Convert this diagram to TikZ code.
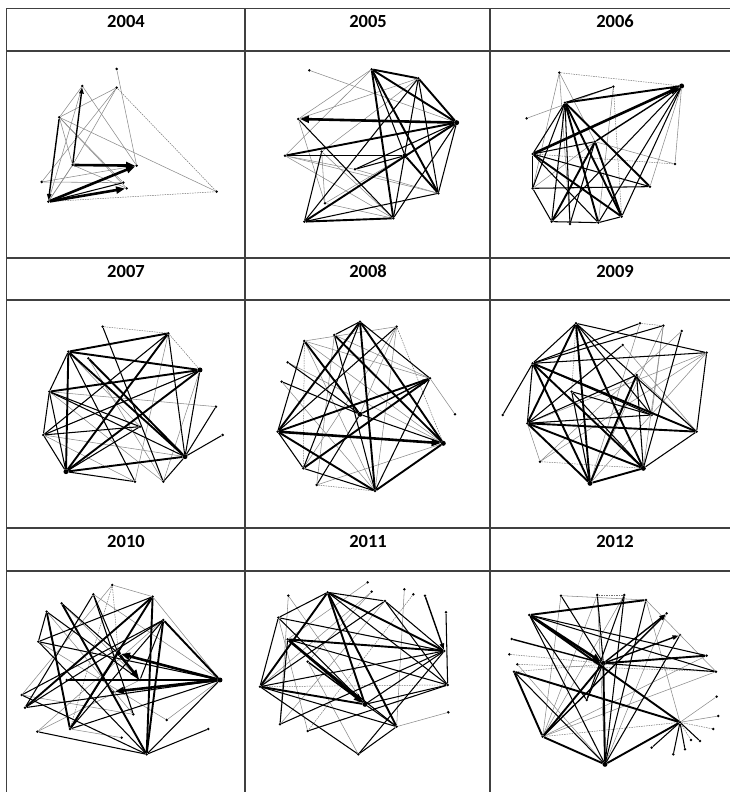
\documentclass[tikz,border=0pt]{standalone}
\usepackage{fontspec}
\setmainfont{Carlito}
\usetikzlibrary{arrows.meta}
\tikzset{
  dot/.style={circle,fill=black,inner sep=0pt,minimum size=2.8pt},
  bigdot/.style={circle,fill=black,inner sep=0pt,minimum size=5pt},
  grid/.style={draw=black!75,line width=1.3pt},
  hdr/.style={font=\bfseries\fontsize{18.5}{20}\selectfont},
  ed/.style={draw=black!55,line width=0.5pt,dash pattern=on 1.5pt off 1pt},
  eg/.style={draw=black!45,line width=0.55pt},
  em/.style={draw=black,line width=1.05pt},
  et/.style={draw=black,line width=1.9pt},
  ea/.style={draw=black,line width=2.6pt,-{Triangle[length=9pt,width=7pt]}},
  eb/.style={draw=black,line width=1.4pt,-{Triangle[length=6pt,width=4.5pt]}},
}
\begin{document}
\begin{tikzpicture}[x=1pt,y=-1pt]
\useasboundingbox (0,0) rectangle (730,792);
% ---------- table ----------
\draw[grid] (6.5,8.5) -- (740,8.5);
\foreach \yy in {51,258,300,528,571} \draw[grid] (6.5,\yy) -- (740,\yy);
\draw[grid] (6.5,8.5) -- (6.5,800);
\draw[grid] (245,8.5) -- (245,800);
\draw[grid] (490,8.5) -- (490,800);
\node[hdr] (t04) at (126,21) {2004};
\node[hdr] (t05) at (368,21) {2005};
\node[hdr] (t06) at (615,21) {2006};
\node[hdr] (t07) at (126,271) {2007};
\node[hdr] (t08) at (368,271) {2008};
\node[hdr] (t09) at (615,271) {2009};
\node[hdr] (t10) at (126,541) {2010};
\node[hdr] (t11) at (368,541) {2011};
\node[hdr] (t12) at (615,541) {2012};

% ---------- 2004 ----------
\begin{scope}[shift={(0,0)},x=0.3333pt,y=-0.3333pt]
\foreach \n/\p in {a1/{(350,207)},a2/{(350,263)},a3/{(247,258)},a4/{(178,352)},a5/{(218,495)},a6/{(410,497)},a7/{(370,548)},a8/{(380,565)},a9/{(125,546)},a10/{(145,605)},a11/{(650,575)}}
  \node[dot] (\n) at \p {};
\foreach \s/\t in {a1/a6,a2/a4,a2/a5,a9/a2,a3/a4,a3/a6,a4/a11,a4/a7,a4/a5,a5/a8,a5/a10,a9/a6,a9/a7,a10/a5,a3/a10,a4/a8}
  \draw[eg] (\s) -- (\t);
\foreach \s/\t in {a2/a11,a10/a11}
  \draw[ed] (\s) -- (\t);
\draw[em] (a10) -- (a7);
\draw[eb] (a5) -- (a3);
\draw[eb] (a4) -- (a10);
\draw[ea] (a5) -- (a6);
\draw[ea] (a10) -- (a6);
\draw[ea] (a10) -- (a8);
\end{scope}

% ---------- 2005 ----------
\begin{scope}[shift={(245,0)},x=0.3333pt,y=-0.3333pt]
\foreach \n/\p in {b1/{(193,211)},b2/{(380,208)},b3/{(520,235)},b5/{(160,357)},b6/{(120,467)},b7/{(230,455)},b9/{(330,508)},b10/{(580,580)},b11/{(445,655)},b12/{(178,665)},b13/{(240,610)}}
  \node[dot] (\n) at \p {};
\node[bigdot] (b4) at (635,368) {};
\node[bigdot] (b8) at (480,467) {};
\foreach \s/\t in {b1/b4,b2/b5,b2/b6,b3/b5,b6/b10,b6/b11,b7/b11,b13/b8,b7/b13,b5/b13,b6/b9,b3/b7,b9/b10,b13/b11}
  \draw[eg] (\s) -- (\t);
\foreach \s/\t in {b3/b11,b3/b10,b2/b8,b4/b10,b4/b11,b4/b9,b6/b8,b12/b10,b5/b11,b3/b12,b7/b12,b9/b8}
  \draw[em] (\s) -- (\t);
\foreach \s/\t in {b2/b3,b2/b4,b3/b4,b2/b10,b2/b11,b4/b6,b4/b12,b8/b10,b12/b11}
  \draw[et] (\s) -- (\t);
\draw[ea] (b4) -- (b5);
\end{scope}

% ---------- 2006 ----------
\begin{scope}[shift={(490,0)},x=0.3333pt,y=-0.3333pt]
\foreach \n/\p in {c1/{(208,218)},c2/{(370,260)},c4/{(225,308)},c5/{(110,355)},c6/{(315,425)},c7/{(128,462)},c8/{(555,492)},c9/{(128,565)},c10/{(480,560)},c11/{(395,650)},c12/{(185,665)},c13/{(240,672)},c14/{(325,668)}}
  \node[dot] (\n) at \p {};
\node[bigdot] (c3) at (575,258) {};
\foreach \s/\t in {c5/c2,c3/c8,c3/c10,c1/c9,c1/c13,c6/c8,c6/c9,c2/c14,c1/c6}
  \draw[eg] (\s) -- (\t);
\foreach \s/\t in {c1/c3,c7/c8,c2/c11}
  \draw[ed] (\s) -- (\t);
\foreach \s/\t in {c2/c4,c3/c11,c3/c14,c3/c12,c4/c7,c4/c9,c4/c12,c4/c13,c7/c10,c7/c9,c7/c14,c7/c6,c9/c10,c12/c14,c14/c11,c6/c13,c9/c12}
  \draw[em] (\s) -- (\t);
\foreach \s/\t in {c4/c3,c4/c14,c4/c11,c4/c10,c7/c11,c6/c12,c6/c11}
  \draw[et] (\s) -- (\t);
\draw[ea] (c7) -- (c3);
\draw[eb] (c6) -- (c3);
\end{scope}

% ---------- 2007 ----------
\begin{scope}[shift={(0,255)},x=0.3333pt,y=-0.3333pt]
\foreach \n/\p in {d1/{(308,215)},d2/{(505,235)},d3/{(205,290)},d5/{(148,410)},d6/{(265,310)},d7/{(648,455)},d8/{(668,540)},d9/{(130,540)},d12/{(405,680)},d13/{(490,680)},d14/{(420,515)}}
  \node[dot] (\n) at \p {};
\node[bigdot] (d4) at (600,345) {};
\node[bigdot] (d10) at (555,605) {};
\node[bigdot] (d11) at (198,650) {};
\foreach \s/\t in {d9/d10,d4/d13,d5/d13,d2/d12,d9/d12,d6/d13,d4/d9,d5/d7,d3/d14,d2/d11}
  \draw[eg] (\s) -- (\t);
\foreach \s/\t in {d2/d4,d1/d2}
  \draw[ed] (\s) -- (\t);
\foreach \s/\t in {d3/d12,d3/d5,d5/d10,d5/d14,d9/d4,d11/d5,d9/d11,d2/d10,d2/d9,d1/d13,d10/d7,d10/d8,d4/d10,d11/d12,d13/d10,d14/d11,d5/d9,d9/d14}
  \draw[em] (\s) -- (\t);
\foreach \s/\t in {d3/d4,d3/d2,d3/d10,d3/d11,d5/d4,d11/d4,d11/d10,d11/d2,d6/d10}
  \draw[et] (\s) -- (\t);
\end{scope}

% ---------- 2008 ----------
\begin{scope}[shift={(245,255)},x=0.3333pt,y=-0.3333pt]
\foreach \n/\p in {e1/{(345,200)},e2/{(455,215)},e3/{(268,240)},e4/{(178,258)},e5/{(128,322)},e6/{(110,380)},e7/{(555,370)},e8/{(630,478)},e10/{(98,530)},e12/{(175,640)},e13/{(215,690)},e14/{(390,708)}}
  \node[dot] (\n) at \p {};
\node[bigdot] (e9) at (345,478) {};
\node[bigdot] (e11) at (595,565) {};
\foreach \s/\t in {e2/e14,e7/e8,e13/e11,e4/e14,e2/e4,e2/e12,e3/e13,e4/e11,e2/e9,e4/e7,e5/e11,e6/e14,e3/e7}
  \draw[eg] (\s) -- (\t);
\foreach \s/\t in {e13/e14,e4/e12,e2/e11}
  \draw[ed] (\s) -- (\t);
\foreach \s/\t in {e1/e3,e1/e12,e3/e14,e4/e10,e10/e12,e14/e7,e6/e9,e5/e9,e2/e10,e1/e7,e9/e13,e9/e11,e12/e14}
  \draw[em] (\s) -- (\t);
\foreach \s/\t in {e1/e14,e1/e10,e1/e11,e3/e11,e4/e9,e10/e7,e10/e14,e12/e7,e14/e11}
  \draw[et] (\s) -- (\t);
\draw[ea] (e10) -- (e11);
\draw[eb] (e9) -- (e7);
\end{scope}

% ---------- 2009 ----------
\begin{scope}[shift={(490,255)},x=0.3333pt,y=-0.3333pt]
\foreach \n/\p in {f1/{(258,205)},f2/{(450,205)},f3/{(520,212)},f4/{(575,228)},f5/{(398,270)},f6/{(650,293)},f7/{(128,325)},f8/{(440,360)},f9/{(245,410)},f10/{(485,480)},f11/{(38,480)},f12/{(112,505)},f13/{(620,530)},f14/{(150,620)}}
  \node[dot] (\n) at \p {};
\node[bigdot] (f15) at (460,640) {};
\node[bigdot] (f16) at (300,685) {};
\foreach \s/\t in {f3/f15,f3/f16,f6/f16,f6/f14,f4/f14,f14/f12,f2/f16,f5/f13,f8/f13,f3/f10,f6/f12}
  \draw[eg] (\s) -- (\t);
\foreach \s/\t in {f2/f3,f14/f15,f1/f9}
  \draw[ed] (\s) -- (\t);
\foreach \s/\t in {f1/f7,f1/f6,f1/f13,f1/f10,f7/f3,f7/f2,f7/f6,f7/f12,f7/f11,f7/f10,f12/f10,f12/f5,f12/f8,f16/f9,f15/f13,f15/f4,f15/f8,f9/f15,f6/f13,f9/f10,f8/f10}
  \draw[em] (\s) -- (\t);
\foreach \s/\t in {f1/f12,f1/f16,f1/f15,f7/f16,f7/f15,f7/f13,f12/f16,f12/f15,f12/f13,f16/f15,f16/f8}
  \draw[et] (\s) -- (\t);
\end{scope}

% ---------- 2010 ----------
\begin{scope}[shift={(0,525)},x=0.3333pt,y=-0.3333pt]
\foreach \n/\p in {g1/{(337,180)},g2/{(280,208)},g3/{(458,215)},g4/{(185,235)},g5/{(140,260)},g6/{(490,285)},g7/{(115,350)},g9/{(420,465)},g11/{(200,465)},g12/{(65,510)},g13/{(340,500)},g14/{(75,548)},g15/{(400,568)},g16/{(500,585)},g17/{(210,612)},g18/{(112,620)},g19/{(365,638)},g20/{(625,612)},g21/{(440,688)}}
  \node[dot] (\n) at \p {};
\node[bigdot] (g8) at (355,385) {};
\node[bigdot] (g10) at (660,465) {};
\foreach \s/\t in {g1/g3,g3/g10,g16/g10,g19/g17,g1/g12,g2/g10,g4/g9,g3/g14,g6/g18,g5/g15,g18/g9,g12/g15,g7/g16}
  \draw[eg] (\s) -- (\t);
\foreach \s/\t in {g1/g8,g1/g17}
  \draw[ed] (\s) -- (\t);
\foreach \s/\t in {g10/g17,g10/g21,g10/g14,g3/g7,g6/g17,g6/g12,g6/g9,g5/g9,g2/g14,g2/g8,g2/g15,g7/g21,g7/g10,g12/g21,g11/g9,g18/g21,g20/g21,g17/g8,g5/g7,g4/g8,g14/g6}
  \draw[em] (\s) -- (\t);
\foreach \s/\t in {g10/g11,g3/g21,g3/g17,g6/g21,g6/g10,g4/g21,g5/g17,g14/g3}
  \draw[et] (\s) -- (\t);
\draw[ea] (g10) -- (g8);
\draw[ea] (g10) -- (g13);
\draw[ea] (g8) -- (g9);
\end{scope}

% ---------- 2011 ----------
\begin{scope}[shift={(245,525)},x=0.3333pt,y=-0.3333pt]
\foreach \n/\p in {h1/{(368,172)},h2/{(130,212)},h3/{(248,202)},h4/{(380,200)},h5/{(478,193)},h6/{(505,208)},h7/{(540,212)},h8/{(420,228)},h9/{(603,262)},h10/{(100,278)},h11/{(128,343)},h12/{(598,378)},h13/{(188,410)},h14/{(45,485)},h15/{(608,480)},h17/{(105,598)},h18/{(188,618)},h19/{(455,605)},h20/{(610,562)},h21/{(340,688)}}
  \node[dot] (\n) at \p {};
\node[bigdot] (h16) at (360,538) {};
\foreach \s/\t in {h20/h19,h1/h11,h2/h16,h5/h19,h4/h13,h2/h17,h4/h14,h13/h21,h10/h18,h8/h17}
  \draw[eg] (\s) -- (\t);
\foreach \s/\t in {h6/h18,h14/h15}
  \draw[ed] (\s) -- (\t);
\foreach \s/\t in {h3/h15,h3/h8,h3/h10,h8/h14,h8/h12,h8/h15,h10/h14,h10/h12,h10/h16,h11/h17,h11/h15,h11/h19,h14/h12,h14/h19,h14/h21,h12/h17,h12/h16,h15/h18,h15/h16,h16/h19,h19/h21,h9/h15,h12/h21}
  \draw[em] (\s) -- (\t);
\foreach \s/\t in {h3/h14,h3/h16,h3/h19,h3/h12,h11/h12,h14/h16}
  \draw[et] (\s) -- (\t);
\draw[ea] (h11) -- (h16);
\draw[eb] (h13) -- (h16);
\draw[eb] (h7) -- (h12);
\end{scope}

% ---------- 2012 ----------
\begin{scope}[shift={(490,525)},x=0.3333pt,y=-0.3333pt]
\foreach \n/\p in {i1/{(213,212)},i2/{(322,210)},i3/{(403,210)},i4/{(468,225)},i5/{(118,270)},i6/{(530,265)},i7/{(570,330)},i8/{(65,342)},i9/{(58,388)},i10/{(650,392)},i12/{(82,418)},i13/{(72,440)},i14/{(678,440)},i15/{(290,525)},i16/{(680,515)},i17/{(685,573)},i18/{(670,612)},i19/{(570,592)},i20/{(630,648)},i21/{(585,673)},i22/{(550,688)},i23/{(485,668)},i24/{(158,635)},i26/{(603,645)}}
  \node[dot] (\n) at \p {};
\node[bigdot] (i11) at (340,415) {};
\node[bigdot] (i25) at (345,718) {};
\foreach \s/\t in {i25/i2,i4/i14,i19/i16,i19/i17,i12/i25,i1/i24,i2/i24,i3/i24,i6/i25,i10/i24,i14/i24,i4/i19,i1/i4}
  \draw[eg] (\s) -- (\t);
\foreach \s/\t in {i9/i11,i12/i14,i19/i18,i19/i26,i24/i19,i13/i10,i2/i3}
  \draw[ed] (\s) -- (\t);
\foreach \s/\t in {i5/i25,i5/i15,i5/i14,i13/i25,i25/i3,i25/i7,i1/i11,i2/i11,i3/i15,i4/i25,i14/i11,i19/i20,i19/i21,i19/i22,i19/i23,i11/i15,i5/i10}
  \draw[em] (\s) -- (\t);
\foreach \s/\t in {i5/i4,i5/i19,i11/i10,i11/i25,i11/i24,i13/i24,i13/i19,i24/i25,i25/i19}
  \draw[et] (\s) -- (\t);
\draw[ea] (i5) -- (i11);
\draw[eb] (i11) -- (i6);
\draw[eb] (i11) -- (i7);
\draw[eb] (i24) -- (i6);
\draw[eb] (i8) -- (i11);
\end{scope}
\end{tikzpicture}
\end{document}
